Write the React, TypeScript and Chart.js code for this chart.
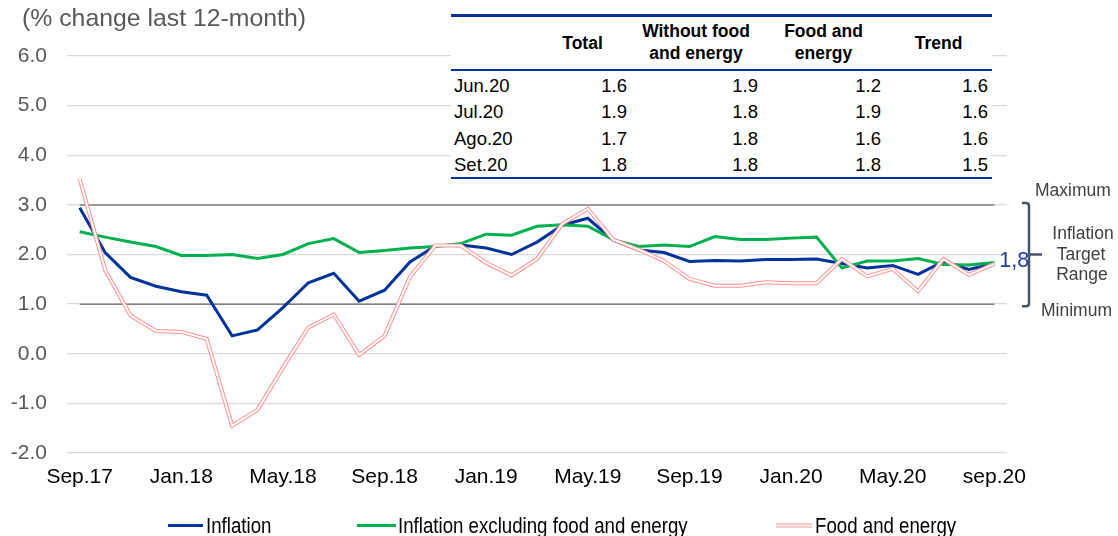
import React, { useEffect, useRef } from 'react';
import { Chart, registerables } from 'chart.js';

Chart.register(...registerables);

const FONT = '"Liberation Sans", Arial, Helvetica, sans-serif';

const months = [
  'Sep.17', 'Oct.17', 'Nov.17', 'Dec.17',
  'Jan.18', 'Feb.18', 'Mar.18', 'Apr.18', 'May.18', 'Jun.18', 'Jul.18', 'Aug.18', 'Sep.18', 'Oct.18', 'Nov.18', 'Dec.18',
  'Jan.19', 'Feb.19', 'Mar.19', 'Apr.19', 'May.19', 'Jun.19', 'Jul.19', 'Aug.19', 'Sep.19', 'Oct.19', 'Nov.19', 'Dec.19',
  'Jan.20', 'Feb.20', 'Mar.20', 'Apr.20', 'May.20', 'Jun.20', 'Jul.20', 'Aug.20', 'sep.20',
];

const inflation = [
  2.94, 2.04, 1.54, 1.36, 1.25, 1.18, 0.36, 0.48, 0.93, 1.43, 1.62,
  1.06, 1.28, 1.85, 2.17, 2.19,
  2.13, 2.0, 2.25, 2.59, 2.73, 2.29, 2.09, 2.04, 1.86, 1.88, 1.87, 1.9,
  1.9, 1.91, 1.82, 1.73, 1.78, 1.6, 1.86, 1.7, 1.82,
];

const coreInflation = [
  2.46, 2.35, 2.25, 2.16, 1.98, 1.98, 2.0, 1.92, 2.0, 2.22, 2.32,
  2.04, 2.08, 2.13, 2.16, 2.22,
  2.41, 2.39, 2.57, 2.6, 2.57, 2.3, 2.16, 2.19, 2.16, 2.36, 2.3, 2.3,
  2.33, 2.35, 1.73, 1.87, 1.87, 1.92, 1.8, 1.79, 1.84,
];

const foodEnergy = [
  3.52, 1.69, 0.77, 0.46, 0.44, 0.3, -1.45, -1.13, -0.28, 0.53, 0.79,
  -0.02, 0.36, 1.55, 2.18, 2.18,
  1.83, 1.58, 1.91, 2.62, 2.92, 2.3, 2.1, 1.87, 1.51, 1.37, 1.37, 1.44,
  1.42, 1.42, 1.91, 1.56, 1.71, 1.26, 1.91, 1.59, 1.81,
];

const targetMax = 3.0;
const targetMin = 1.0;
const yMin = -2;
const yMax = 6;

const legendLabels = ['Inflation', 'Inflation excluding food and energy', 'Food and energy'];
const targetLabels = ['Maximum', 'Inflation', 'Target', 'Range', 'Minimum'];
const chartTitle = '(% change last 12-month)';

const tableHeaders = ['', 'Total', 'Without food\nand energy', 'Food and\nenergy', 'Trend'];
const tableMonths = ['Jun.20', 'Jul.20', 'Ago.20', 'Set.20'];
const tableTotal = [1.6, 1.9, 1.7, 1.8];
const tableCore = [1.9, 1.8, 1.8, 1.8];
const tableFood = [1.2, 1.9, 1.6, 1.8];
const tableTrend = [1.6, 1.6, 1.6, 1.5];

const BLUE = '#003399';
const GREEN = '#00B050';
const PINK = '#FF8F8F';
const GRAY_LINE = '#7F7F7F';
const BRACKET = '#44546A';

function drawNarrow(ctx: CanvasRenderingContext2D, text: string, x: number, y: number, sx: number) {
  ctx.save();
  ctx.translate(x, y);
  ctx.scale(sx, 1);
  ctx.fillText(text, 0, 0);
  ctx.restore();
}

const annotationsPlugin = {
  id: 'annotations',
  afterDraw(chart: any) {
    const { ctx } = chart;
    const ys = chart.scales.y;
    const xs = chart.scales.x;
    ctx.save();

    // title
    ctx.fillStyle = '#595959';
    ctx.font = `24.8px ${FONT}`;
    ctx.textAlign = 'left';
    ctx.textBaseline = 'alphabetic';
    ctx.fillText(chartTitle, 22, 26);

    // last value label
    const lastIdx = inflation.length - 1;
    const last = inflation[lastIdx];
    const lx = xs.getPixelForValue(lastIdx);
    ctx.fillStyle = '#1F3B9B';
    ctx.font = `21.5px ${FONT}`;
    ctx.fillText(last.toFixed(1).replace('.', ','), lx + 5, ys.getPixelForValue(last) + 4);

    // bracket
    const top = ys.getPixelForValue(targetMax) - 2;
    const bot = ys.getPixelForValue(targetMin) + 2;
    const mid = (top + bot) / 2;
    const bx = 1029;
    ctx.strokeStyle = BRACKET;
    ctx.lineWidth = 2.5;
    ctx.beginPath();
    ctx.moveTo(bx - 7, top);
    ctx.lineTo(bx - 3, top);
    ctx.quadraticCurveTo(bx, top, bx, top + 3);
    ctx.lineTo(bx, bot - 3);
    ctx.quadraticCurveTo(bx, bot, bx - 3, bot);
    ctx.lineTo(bx - 7, bot);
    ctx.moveTo(bx, mid);
    ctx.lineTo(bx + 13, mid);
    ctx.stroke();

    // target texts
    ctx.fillStyle = '#404040';
    ctx.font = `17.5px ${FONT}`;
    ctx.textAlign = 'left';
    ctx.fillText(targetLabels[0], 1035, 196);
    ctx.fillText(targetLabels[4], 1041, 316);
    ctx.textAlign = 'center';
    ctx.fillText(targetLabels[1], 1083, 239);
    ctx.fillText(targetLabels[2], 1081, 259.5);
    ctx.fillText(targetLabels[3], 1082, 280);

    // legend
    const items = [
      { x0: 168, x1: 203, tx: 206, color: BLUE, double: false },
      { x0: 357, x1: 396, tx: 398, color: GREEN, double: false },
      { x0: 776, x1: 812, tx: 815, color: PINK, double: true },
    ];
    const ly = 525.5;
    items.forEach((it, i) => {
      ctx.beginPath();
      ctx.strokeStyle = it.color;
      ctx.lineWidth = it.double ? 4 : 3;
      ctx.moveTo(it.x0, ly);
      ctx.lineTo(it.x1, ly);
      ctx.stroke();
      if (it.double) {
        ctx.beginPath();
        ctx.strokeStyle = '#FFFFFF';
        ctx.lineWidth = 2;
        ctx.moveTo(it.x0, ly);
        ctx.lineTo(it.x1, ly);
        ctx.stroke();
      }
      ctx.fillStyle = '#000000';
      ctx.font = `22.5px ${FONT}`;
      ctx.textAlign = 'left';
      ctx.textBaseline = 'alphabetic';
      drawNarrow(ctx, legendLabels[i], it.tx, 533, 0.83);
    });

    ctx.restore();
  },
};

export default function App() {
  const canvasRef = useRef<HTMLCanvasElement | null>(null);

  useEffect(() => {
    document.body.style.margin = '0';
    const canvas = canvasRef.current;
    if (!canvas) return;
    const lineBase = { pointRadius: 0, pointHoverRadius: 0, tension: 0, fill: false };
    const chart = new Chart(canvas, {
      type: 'line',
      data: {
        labels: months,
        datasets: [
          { ...lineBase, label: 'Maximum', data: months.map(() => targetMax), borderColor: GRAY_LINE, borderWidth: 1.5, order: 6 },
          { ...lineBase, label: 'Minimum', data: months.map(() => targetMin), borderColor: GRAY_LINE, borderWidth: 1.5, order: 5 },
          { ...lineBase, label: legendLabels[0], data: inflation, borderColor: BLUE, borderWidth: 3, order: 4 },
          { ...lineBase, label: legendLabels[1], data: coreInflation, borderColor: GREEN, borderWidth: 3, order: 3 },
          { ...lineBase, label: legendLabels[2], data: foodEnergy, borderColor: PINK, borderWidth: 4, order: 2 },
          { ...lineBase, label: 'inner', data: foodEnergy, borderColor: '#FFFFFF', borderWidth: 2, order: 1 },
        ],
      },
      options: {
        responsive: false,
        maintainAspectRatio: false,
        animation: false,
        devicePixelRatio: 1,
        layout: { padding: { left: 0, right: 111, top: 56, bottom: 0 } },
        plugins: {
          legend: { display: false },
          title: { display: false },
          tooltip: { enabled: false },
        },
        scales: {
          x: {
            type: 'category',
            offset: true,
            grid: { display: false, drawTicks: false },
            border: { display: false },
            ticks: {
              autoSkip: false,
              maxRotation: 0,
              minRotation: 0,
              padding: 12,
              color: '#000000',
              font: { family: FONT, size: 21 },
              callback: (_v: any, i: number) => (i % 4 === 0 ? months[i] : ''),
            },
            afterFit: (s: any) => { s.height = 83; },
          },
          y: {
            min: yMin,
            max: yMax,
            ticks: {
              stepSize: 1,
              padding: 20,
              color: '#595959',
              font: { family: FONT, size: 21 },
              callback: (v: any) => Number(v).toFixed(1),
            },
            grid: { color: '#D9D9D9', lineWidth: 1.3, drawTicks: false },
            border: { display: false },
            afterFit: (s: any) => { s.width = 67; },
          },
        },
      },
      plugins: [annotationsPlugin],
    });
    return () => chart.destroy();
  }, []);

  const colEdges = [0, 84, 179, 311, 434, 541];
  const rowsData = tableMonths.map((m, i) => [m, tableTotal[i], tableCore[i], tableFood[i], tableTrend[i]]);

  return (
    <div style={{ position: 'relative', width: 1118, height: 536, overflow: 'hidden', background: '#fff' }}>
      <canvas ref={canvasRef} width={1118} height={536} style={{ display: 'block' }} />
      <div
        style={{
          position: 'absolute', left: 451, top: 14, width: 541, height: 166,
          background: '#ffffff', fontFamily: FONT, color: '#000',
        }}
      >
        <div style={{ position: 'absolute', left: 0, top: 0, width: 541, height: 2.5, background: BLUE }} />
        {tableHeaders.map((h, c) => {
          if (!h) return null;
          const twoLines = h.includes('\n');
          return (
            <div
              key={'h' + c}
              style={{
                position: 'absolute',
                left: colEdges[c],
                width: colEdges[c + 1] - colEdges[c],
                top: twoLines ? 6 : 18,
                lineHeight: '22px',
                fontSize: 17.5,
                fontWeight: 'bold',
                textAlign: 'center',
                whiteSpace: 'pre-line',
              }}
            >
              {h}
            </div>
          );
        })}
        <div style={{ position: 'absolute', left: 0, top: 55, width: 541, height: 2, background: BLUE }} />
        {rowsData.map((row, r) =>
          row.map((cell, c) => (
            <div
              key={'r' + r + 'c' + c}
              style={{
                position: 'absolute',
                left: colEdges[c] + (c === 0 ? 3 : 0),
                width: colEdges[c + 1] - colEdges[c] - (c === 0 ? 3 : c === 1 ? 3 : 4),
                top: 59 + r * 26.3,
                lineHeight: '26.3px',
                fontSize: 18.5,
                textAlign: c === 0 ? 'left' : 'right',
              }}
            >
              {typeof cell === 'number' ? cell.toFixed(1) : cell}
            </div>
          ))
        )}
        <div style={{ position: 'absolute', left: 0, top: 162.75, width: 541, height: 2.5, background: BLUE }} />
      </div>
    </div>
  );
}
